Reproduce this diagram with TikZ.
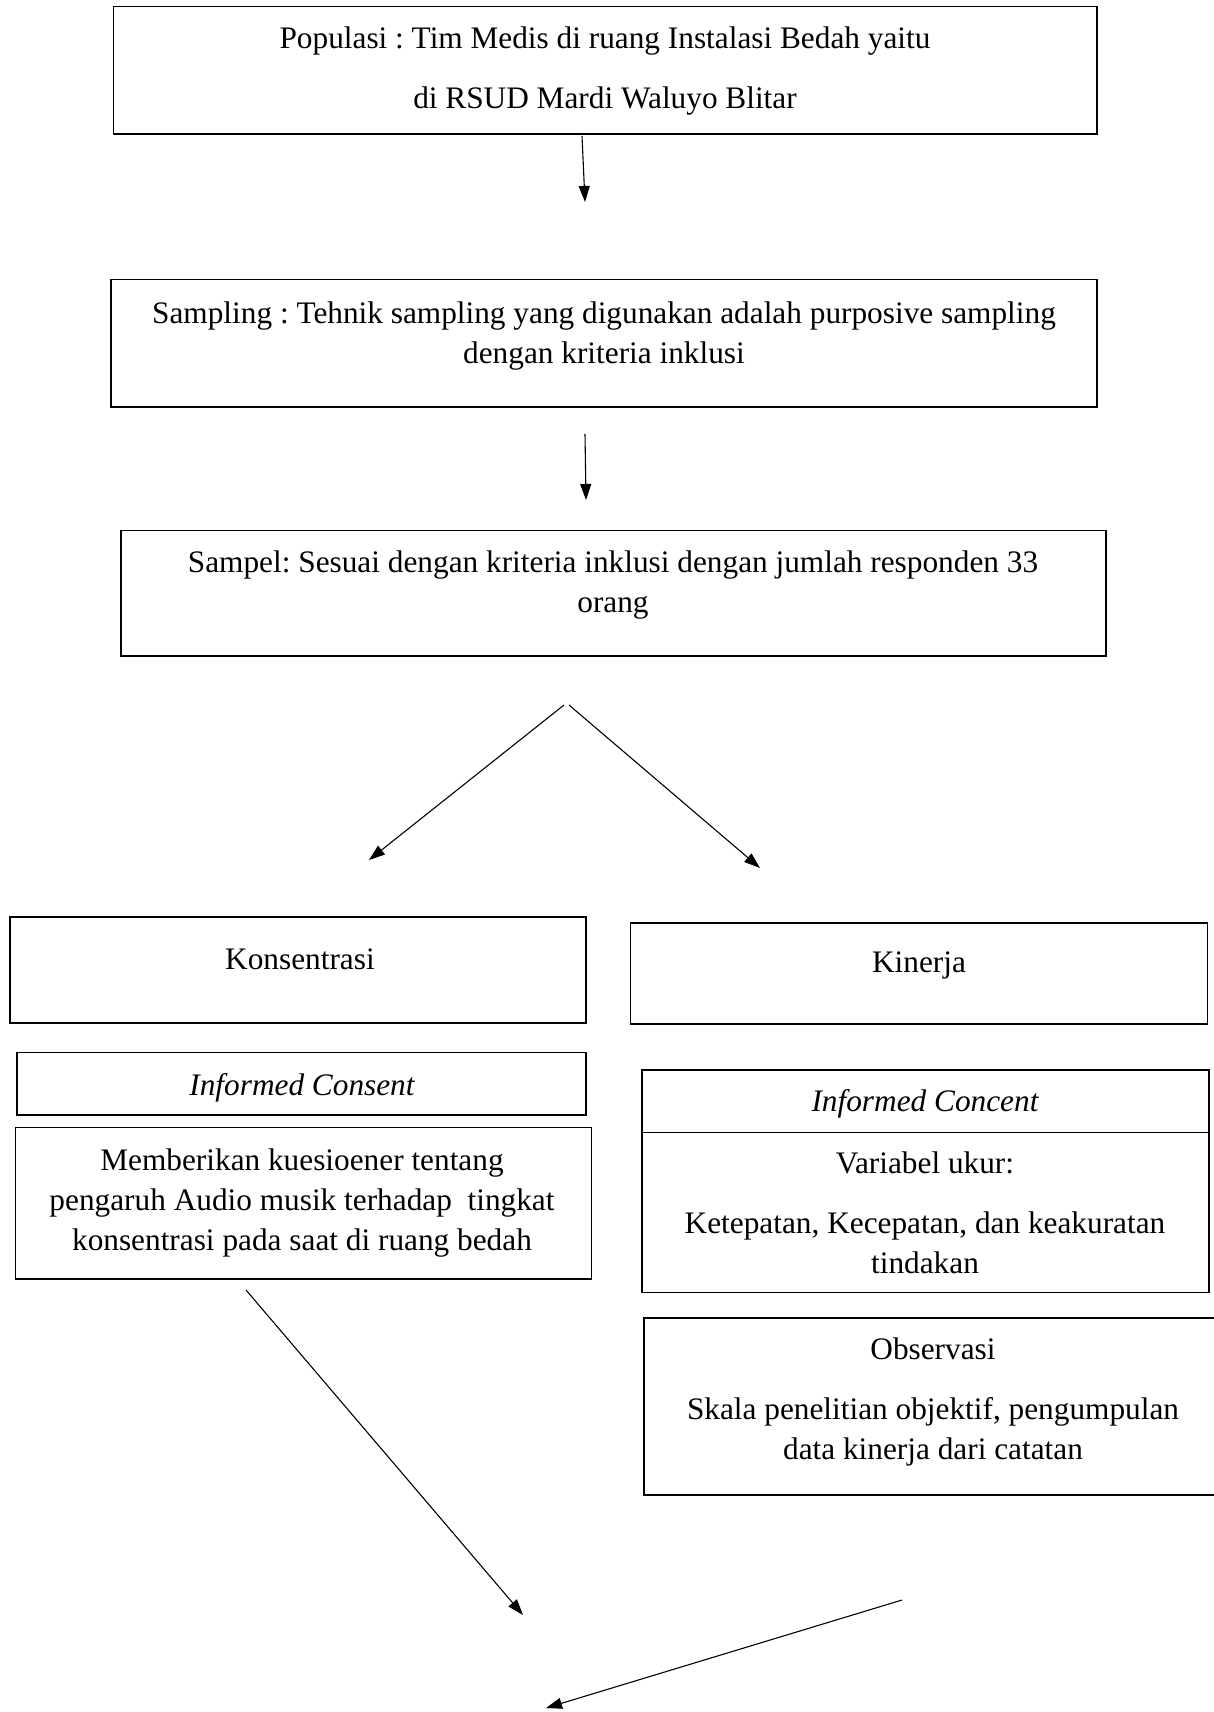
\documentclass[tikz,border=0pt]{standalone}
\usepackage{fontspec}
\setmainfont{Liberation Serif}
\usetikzlibrary{arrows.meta}
\frenchspacing
\begin{document}
\begin{tikzpicture}[x=1pt,y=-1pt,
  box/.style={draw, line width=1.8pt, inner sep=0pt},
  txt/.style={anchor=north, inner sep=0pt, align=center, font=\fontsize{31.3}{40}\selectfont\frenchspacing},
  conn/.style={line width=1.1pt, -{Triangle[length=16pt,width=11pt]}}]
\useasboundingbox (0,0) rectangle (1214,1712);
\clip (0,0) rectangle (1214,1712);
% boxes
\node[box, minimum width=983.5pt, minimum height=127.5pt] (pop) at (605.25,70.25) {};
\node[box, minimum width=986pt, minimum height=127.5pt] (samp) at (604,343.25) {};
\node[box, minimum width=985pt, minimum height=125.5pt] (sampel) at (613.5,593.25) {};
\node[box, minimum width=576pt, minimum height=106pt] (kons) at (298,970) {};
\node[box, minimum width=577pt, minimum height=101pt] (kin) at (919,973.5) {};
\node[box, minimum width=569pt, minimum height=62.5pt] (icl) at (301.5,1083.75) {};
\node[box, minimum width=576pt, minimum height=151.5pt] (memb) at (303.5,1203.25) {};
\node[box, minimum width=567pt, minimum height=62.5pt] (icr) at (925.5,1101.25) {};
\node[box, minimum width=567pt, minimum height=160pt] (var) at (925.5,1212.5) {};
\node[box, minimum width=578pt, minimum height=177pt] (obs) at (933,1406.5) {};
% texts
\node[txt] (tpop) at (605,27) {Populasi : Tim Medis di ruang Instalasi Bedah yaitu\\[20pt]di RSUD Mardi Waluyo Blitar};
\node[txt] (tsamp) at (604,302) {Sampling : Tehnik sampling yang digunakan adalah purposive sampling\\dengan kriteria inklusi};
\node[txt] (tsampel) at (613,551) {Sampel: Sesuai dengan kriteria inklusi dengan jumlah responden 33\\orang};
\node[txt] (tkons) at (300,949) {Konsentrasi};
\node[txt] (tkin) at (919,952) {Kinerja};
\node[txt] (ticl) at (302,1073) {\itshape Informed Consent};
\node[txt] (tmemb) at (302,1149) {Memberikan kuesioener tentang\\pengaruh Audio musik terhadap\ \ tingkat\\konsentrasi pada saat di ruang bedah};
\node[txt] (ticr) at (925,1089) {\itshape Informed Concent};
\node[txt] (tvar) at (925,1152) {Variabel ukur:\\[20pt]Ketepatan, Kecepatan, dan keakuratan\\tindakan};
\node[txt] (tobs) at (933,1338) {Observasi\\[20pt]Skala penelitian objektif, pengumpulan\\data kinerja dari catatan};
% connector ends
\coordinate (a1s) at (582,136);
\coordinate (a1e) at (585,202);
\coordinate (a2s) at (585,434);
\coordinate (a2e) at (586,500);
\coordinate (d1s) at (564,705);
\coordinate (d1e) at (369,860);
\coordinate (d2s) at (569,705);
\coordinate (d2e) at (760,868);
\coordinate (d3s) at (246,1290);
\coordinate (d3e) at (523,1615);
\coordinate (d4s) at (902,1600);
\coordinate (d4e) at (546,1708);
\draw[conn] (a1s) -- (a1e);
\draw[conn] (a2s) -- (a2e);
\draw[conn] (d1s) -- (d1e);
\draw[conn] (d2s) -- (d2e);
\draw[conn] (d3s) -- (d3e);
\draw[conn] (d4s) -- (d4e);
\end{tikzpicture}
\end{document}
